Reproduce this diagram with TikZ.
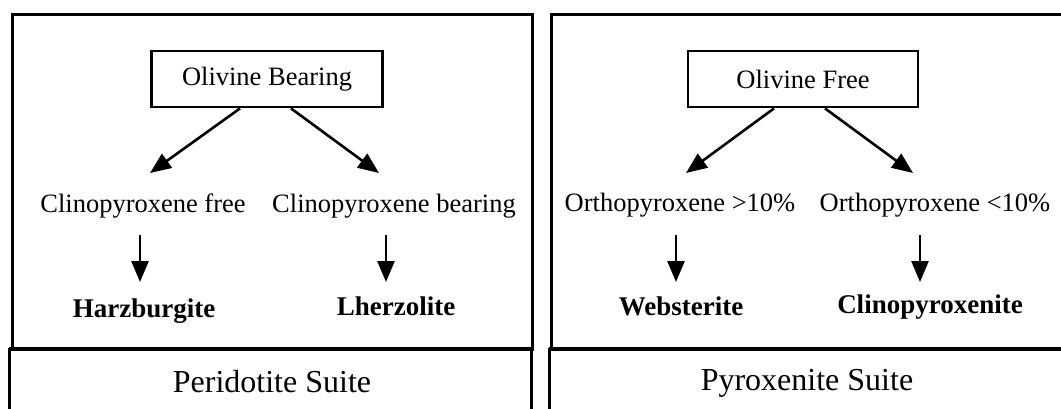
\documentclass[tikz,border=0pt]{standalone}
\usepackage{fontspec}
\setmainfont{Liberation Serif}
\usetikzlibrary{arrows.meta}
\tikzset{
  panel/.style={draw=black, line width=3pt},
  sep/.style={draw=black, line width=4pt},
  headbox/.style={draw=black, line width=2.8pt, font=\fontsize{26.5}{30}\selectfont, minimum height=56pt, inner sep=0pt, anchor=center},
  choice/.style={font=\fontsize{26.5}{30}\selectfont, inner sep=0pt, anchor=base},
  rock/.style={font=\fontsize{27}{30}\selectfont\bfseries, inner sep=0pt, anchor=base},
  suite/.style={font=\fontsize{32}{36}\selectfont, inner sep=0pt, anchor=base},
  flow/.style={draw=black, line width=2.6pt, -{Triangle[length=21pt,width=17pt]}},
}
\begin{document}
\begin{tikzpicture}[x=1pt,y=1pt]
\useasboundingbox (0,0) rectangle (1061,-408);
\clip (0,0) rectangle (1061,-408);
\fill[white] (0,0) rectangle (1061,-408);
% panels
\draw[panel] (12,-14) rectangle (532,-349);
\draw[panel] (9,-349) rectangle (531,-430);
\draw[panel] (551,-14) rectangle (1080,-349);
\draw[panel] (549,-349) rectangle (1080,-430);
\draw[sep] (9,-349) -- (532,-349);
\draw[sep] (549,-349) -- (1080,-349);
% left panel
\node[headbox, minimum width=231pt] (ob) at (267,-79) {Olivine Bearing};
\node[choice] (cpxf) at (143,-212) {Clinopyroxene free};
\node[choice] (cpxb) at (394,-212) {Clinopyroxene bearing};
\node[rock] (harz) at (144,-317) {Harzburgite};
\node[rock] (lherz) at (396,-315) {Lherzolite};
\node[suite] (per) at (272,-392) {Peridotite Suite};
\draw[flow] ([xshift=-27pt]ob.south) -- ([shift={(7pt,39pt)}]cpxf.base);
\draw[flow] ([xshift=24pt]ob.south) -- ([shift={(-15pt,39pt)}]cpxb.base);
\draw[flow] ([shift={(-3pt,-23pt)}]cpxf.base) -- ([shift={(-4pt,35pt)}]harz.base);
\draw[flow] ([shift={(-8pt,-23pt)}]cpxb.base) -- ([shift={(-10pt,33pt)}]lherz.base);
% right panel
\node[headbox, minimum width=230pt] (of) at (803,-79) {Olivine Free};
\node[choice] (opxa) at (680,-211) {Orthopyroxene >10\%};
\node[choice] (opxb) at (935,-211) {Orthopyroxene <10\%};
\node[rock] (web) at (681,-315) {Websterite};
\node[rock] (clin) at (930,-313) {Clinopyroxenite};
\node[suite] (pyr) at (807,-390) {Pyroxenite Suite};
\draw[flow] ([xshift=-29pt]of.south) -- ([shift={(6pt,38pt)}]opxa.base);
\draw[flow] ([xshift=22pt]of.south) -- ([shift={(-22pt,38pt)}]opxb.base);
\draw[flow] ([shift={(-4pt,-24pt)}]opxa.base) -- ([shift={(-5pt,33pt)}]web.base);
\draw[flow] ([shift={(-15pt,-24pt)}]opxb.base) -- ([shift={(-10pt,31pt)}]clin.base);
\end{tikzpicture}
\end{document}
